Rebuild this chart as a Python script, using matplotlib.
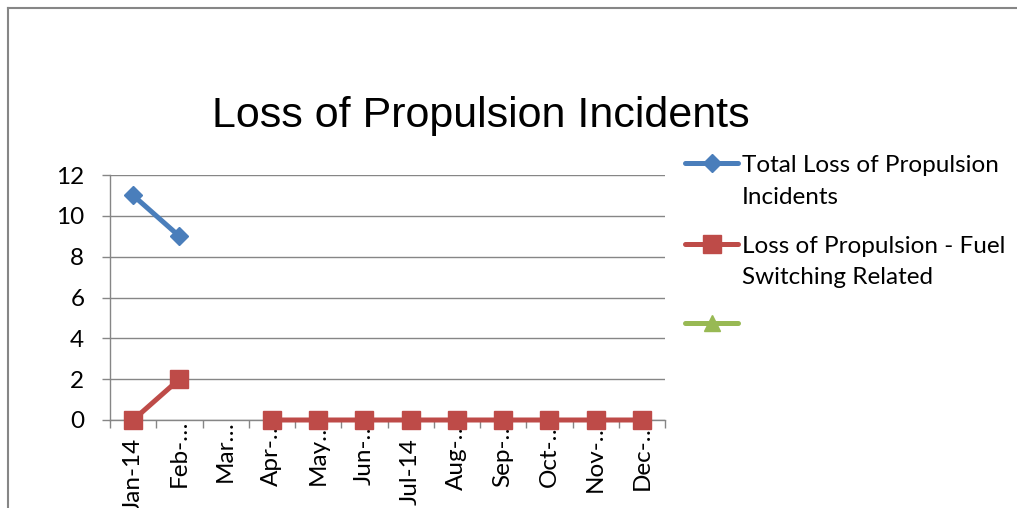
import numpy as np
import matplotlib
matplotlib.use('Agg')
import matplotlib.pyplot as plt
from matplotlib.lines import Line2D
from matplotlib.transforms import ScaledTranslation

months = ['Jan-14', 'Feb-…', 'Mar…', 'Apr-…', 'May…', 'Jun-…',
          'Jul-14', 'Aug-…', 'Sep-…', 'Oct-…', 'Nov-…', 'Dec-…']
total_lop = [11, 9, np.nan, np.nan, np.nan, np.nan,
             np.nan, np.nan, np.nan, np.nan, np.nan, np.nan]
fuel_switch_lop = [0, 2, np.nan, 0, 0, 0, 0, 0, 0, 0, 0, 0]
third_series = [np.nan] * 12

BLUE = '#4A7EBB'
RED = '#BE4B48'
GREEN = '#98B954'
GRID = '#868686'
FONT = 'Lato'
FS = 17.5

W, H = 1017, 508
fig = plt.figure(figsize=(W / 100, H / 100), dpi=100)
ax = fig.add_axes([110 / W, 1 - 420 / H, 555 / W, 245 / H])

x = np.arange(len(months))
series = [
    (total_lop, BLUE, 'D', 9.5, ['Total Loss of Propulsion', 'Incidents']),
    (fuel_switch_lop, RED, 's', 13.5, ['Loss of Propulsion - Fuel', 'Switching Related']),
    (third_series, GREEN, '^', 12, []),
]
for vals, col, mk, ms, _ in series:
    ax.plot(x, vals, color=col, lw=3.6, marker=mk, ms=ms,
            clip_on=False, zorder=3)

ax.set_xlim(-0.5, 11.5)
ax.set_ylim(0, 12)
ax.set_yticks(range(0, 13, 2))
ax.set_yticklabels([str(v) for v in range(0, 13, 2)], fontsize=FS, family=FONT)
ax.set_xticks(x)
ax.set_xticklabels(months, rotation=90, fontsize=FS, family=FONT, va='top')
ax.set_xticks(np.arange(-0.5, 12, 1), minor=True)
ax.tick_params(axis='x', which='major', length=0, pad=13)
ax.tick_params(axis='x', which='minor', length=5.5, color=GRID, width=1)
ax.tick_params(axis='y', length=5.5, color=GRID, width=1, pad=13)

# truncated month labels sit a bit higher so the dots reach the axis
for lab in ax.get_xticklabels():
    if lab.get_text().endswith('…'):
        lab.set_transform(lab.get_transform() +
                          ScaledTranslation(0, 13 / 72, fig.dpi_scale_trans))

ax.yaxis.grid(True, color=GRID, lw=1)
ax.set_axisbelow(True)
for side in ['top', 'right']:
    ax.spines[side].set_visible(False)
for side in ['left', 'bottom']:
    ax.spines[side].set_color(GRID)
    ax.spines[side].set_linewidth(1)

fig.text(481 / W, 1 - 116 / H, 'Loss of Propulsion Incidents', fontsize=31,
         family='Liberation Sans', ha='center', va='center')

# legend: handle lines up with the first line of each label
leg_y = [163, 244, 323]
for (vals, col, mk, ms, lines), y in zip(series, leg_y):
    fig.add_artist(Line2D([685 / W, 711.5 / W, 738 / W], [1 - y / H] * 3,
                          color=col, lw=3.6, marker=mk, ms=ms, markevery=[1],
                          solid_capstyle='round'))
    for i, t in enumerate(lines):
        fig.text(742 / W, 1 - (y + 9 + i * 31.5) / H, t, fontsize=FS,
                 family=FONT, va='baseline', ha='left')

# outer chart frame, only top and left edges show
fig.add_artist(Line2D([8 / W, 1], [1 - 8 / H, 1 - 8 / H], color=GRID, lw=1.5))
fig.add_artist(Line2D([8 / W, 8 / W], [0, 1 - 8 / H], color=GRID, lw=1.5))

fig.savefig('out.png', dpi=100)
